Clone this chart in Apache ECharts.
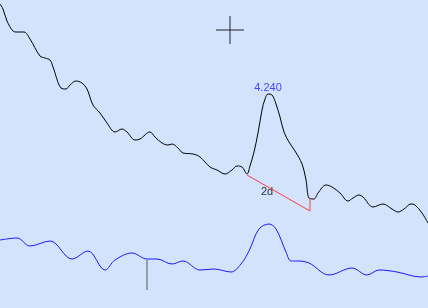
<!DOCTYPE html>
<html>
<head>
<meta charset="utf-8">
<script src="https://cdn.jsdelivr.net/npm/echarts@6/dist/echarts.min.js"></script>
<style>
html,body{margin:0;padding:0;background:#d2e3fb;}
#c{width:428px;height:308px;}
</style>
</head>
<body>
<div id="c"></div>
<script>
// price trace (x = sample position, y = level on inverted scale)
var priceLine = [[0,4],[3,9],[7,21],[13,31],[17,32],[24,32],[30,39],[40,56],[45,58],[50,60],[53,67],[61,88],[66,89],[70,85],[76,81],[82,83],[87,89],[93,105],[100,113],[107,123],[115,132],[122,129],[127,132],[135,140],[140,139],[150,132],[155,137],[162,143],[168,145],[172,144],[178,148],[183,153],[193,154],[200,157],[210,167],[217,170],[225,174],[232,170],[237,166],[242,167],[247,174],[250,166],[254,152],[258,133],[262,110],[265,99],[268,94],[272,95],[276,104],[280,117],[284,132],[289,142],[295,151],[302,164],[306,180],[309,198],[314,199],[318,193],[326,185],[332,187],[340,193],[348,201],[353,198],[359,195],[363,197],[373,207],[383,204],[392,209],[398,212],[404,209],[411,204],[415,205],[422,213],[428,223]];
var indicatorLine = [[0,240],[17,238],[30,246],[50,241],[72,259],[88,251],[105,270],[115,260],[132,253],[147,259],[157,259],[172,264],[183,261],[200,270],[214,269],[231,272],[241,264],[249,251],[259,229],[269,224],[276,229],[286,252],[291,261],[297,261],[309,263],[329,275],[352,268],[367,275],[379,270],[397,272],[421,277],[428,276]];
var measureLine = [[247,175],[310,211],[310,198]];
var crossH = [[216,30],[244,30]];
var crossV = [[230,16],[230,44]];
var tickMark = [[147,260],[147,290]];
var peakLabel = [[268,88,'4.240']];
var measureLabel = [[267,192,'2d']];

var chart = echarts.init(document.getElementById('c'));
function seg(data, color, smooth, w){
  return {type:'line', data:data, showSymbol:false, smooth:smooth, silent:true,
    lineStyle:{color:color, width:w||1}, animation:false};
}
function txt(data, color){
  return {type:'scatter', data:data, symbolSize:0, silent:true, animation:false,
    label:{show:true, position:'inside', formatter:function(p){return p.value[2];},
      color:color, fontSize:11, fontFamily:'Liberation Sans, Arial, sans-serif'}};
}
chart.setOption({
  backgroundColor:'#d2e3fb',
  grid:{left:0,right:0,top:0,bottom:0},
  xAxis:{type:'value', min:0, max:428, show:false},
  yAxis:{type:'value', min:0, max:308, inverse:true, show:false},
  series:[
    seg(priceLine,'#000000',0.35),
    seg(indicatorLine,'#1a1aff',0.35),
    seg(measureLine,'#ff3c3c',false),
    seg(crossH,'#222222',false),
    seg(crossV,'#222222',false),
    seg(tickMark,'#555555',false),
    txt(peakLabel,'#1a1aff'),
    txt(measureLabel,'#000000')
  ]
});
</script>
</body>
</html>
